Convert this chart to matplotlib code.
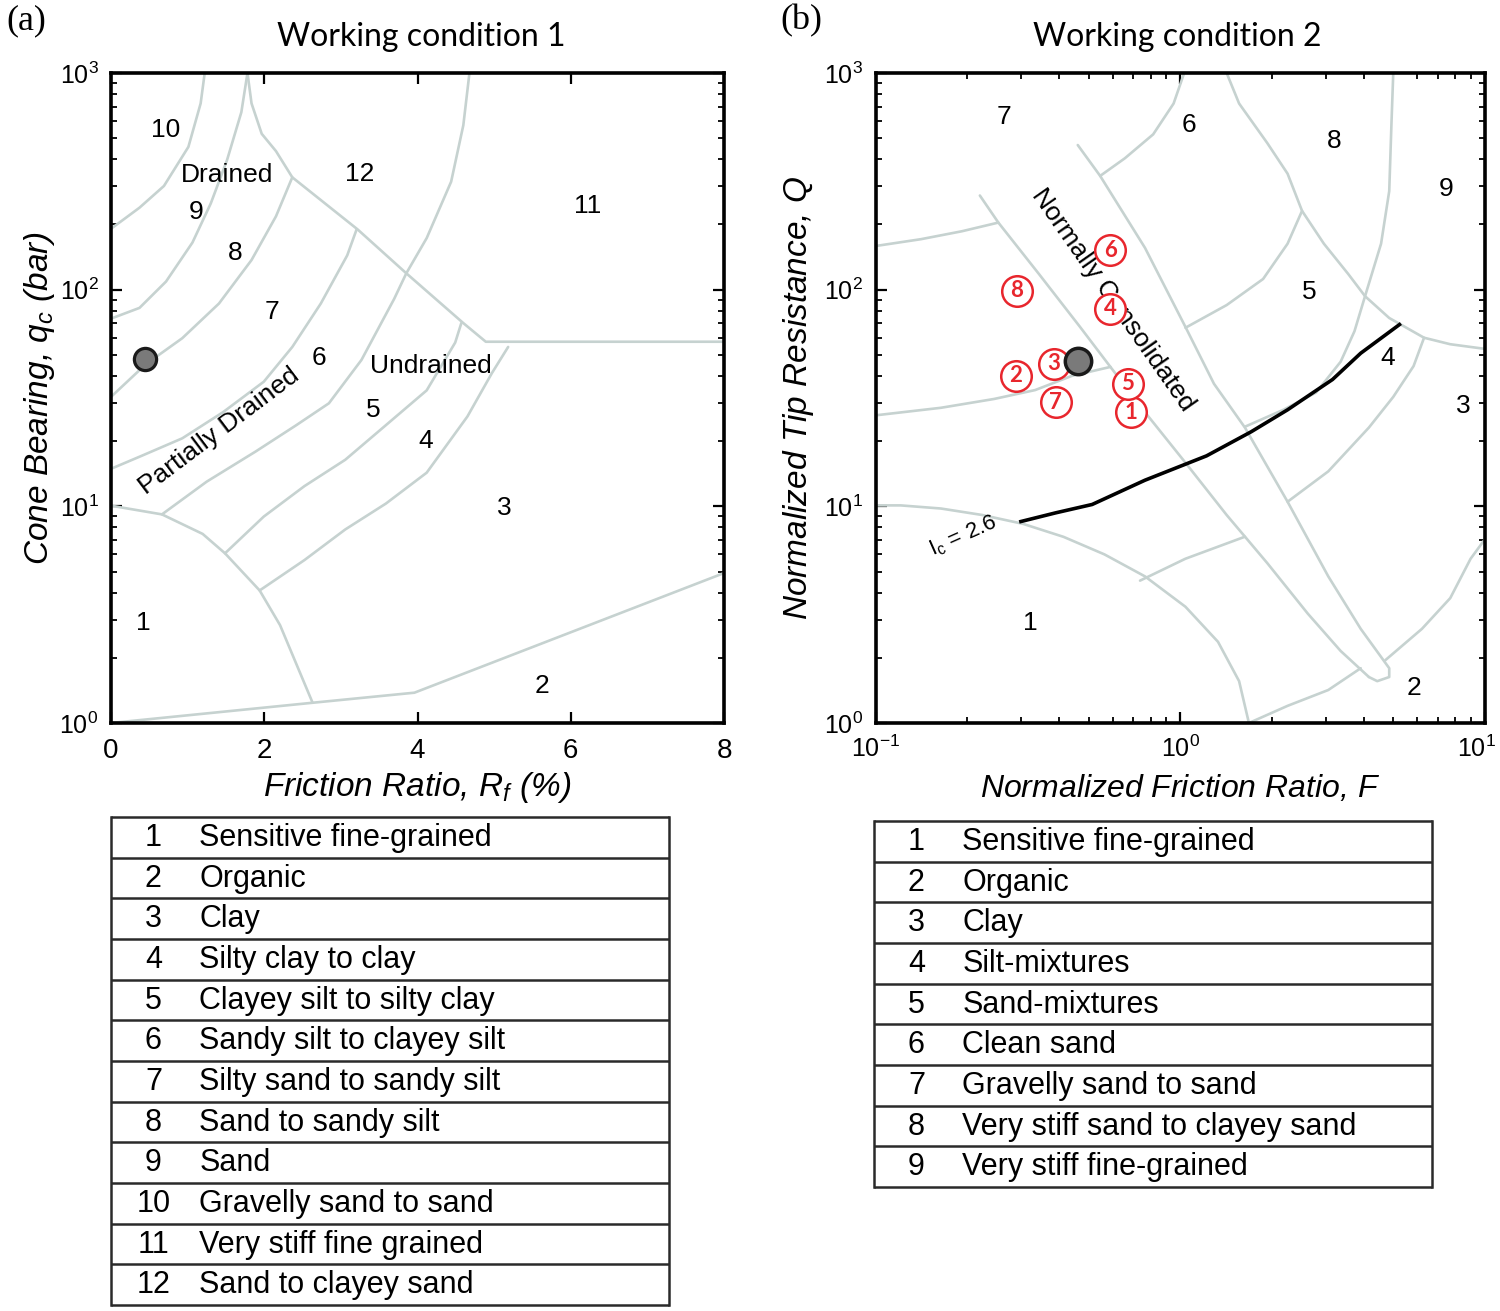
import matplotlib
matplotlib.use('Agg')
import matplotlib.pyplot as plt
import matplotlib.transforms as mtransforms
from matplotlib.ticker import LogLocator, NullFormatter

plt.rcParams['font.family'] = ['Liberation Sans', 'DejaVu Sans']
plt.rcParams['mathtext.fontset'] = 'custom'
plt.rcParams['mathtext.rm'] = 'Liberation Sans'
plt.rcParams['mathtext.it'] = 'Liberation Sans:italic'
plt.rcParams['mathtext.default'] = 'regular'

# ---------------- data: Working condition 1 (Robertson 1986 chart) ----------------
wc1_line_a = ([1.223, 1.170, 1.010, 0.691, 0.372, 0.0], [1000, 724, 456, 301, 239, 191])
wc1_line_b = ([1.781, 1.701, 1.515, 1.302, 1.063, 0.718, 0.372, 0.0], [1000, 659, 397, 250, 165, 109, 82.4, 73.5])
wc1_line_c = ([2.366, 2.153, 1.834, 1.409, 0.930, 0.452, 0.0], [330, 218, 137, 86.3, 59.7, 45.2, 32.0])
wc1_line_d = ([3.206, 3.083, 2.738, 2.366, 1.994, 1.462, 0.930, 0.399, 0.0], [190, 144, 86.3, 54.4, 37.6, 27.2, 20.6, 17.1, 14.9])
wc1_line_e = ([4.678, 4.598, 4.439, 4.120, 3.854, 3.695, 3.269, 2.844, 2.419, 1.887, 1.249, 0.665],
              [1000, 574, 315, 173, 119, 90.6, 47.4, 29.9, 23.7, 17.9, 13.0, 9.18])
wc1_line_f = ([4.572, 4.492, 4.120, 3.588, 3.057, 2.525, 1.994, 1.488], [70.1, 57.0, 34.3, 23.7, 16.4, 12.4, 8.97, 6.07])
wc1_line_g = ([5.183, 4.971, 4.652, 4.120, 3.588, 3.057, 2.525, 1.940], [54.4, 41.2, 26.0, 14.3, 10.3, 7.82, 5.65, 4.09])
wc1_line_h = ([1.781, 1.834, 1.967, 2.153, 2.366, 3.216, 3.854, 4.598, 4.891, 8.0],
              [1000, 724, 524, 436, 330, 190, 119, 70.1, 57.5, 57.5])
wc1_zone1 = ([0.0, 0.665, 1.196, 1.488, 1.940, 2.206, 2.631], [10.07, 9.18, 7.46, 6.07, 4.09, 2.83, 1.24])
wc1_zone2 = ([0.0, 2.631, 3.960, 8.0], [1.0, 1.24, 1.38, 4.92])
wc1_lines = [wc1_line_a, wc1_line_b, wc1_line_c, wc1_line_d, wc1_line_e, wc1_line_f,
             wc1_line_g, wc1_line_h, wc1_zone1, wc1_zone2]

wc1_zone_text = ['10', 'Drained', '9', '8', '7', '6', 'Undrained', '5', '4', '3', '12', '11', '1', '2']
wc1_zone_x = [0.718, 1.515, 1.116, 1.621, 2.10, 2.711, 4.18, 3.418, 4.104, 5.13, 3.243, 6.22, 0.425, 5.624]
wc1_zone_y = [548, 337, 228, 147, 78.7, 48.5, 44.4, 27.9, 20.1, 9.84, 342, 244, 2.90, 1.48]
wc1_point_rf = [0.45]
wc1_point_qc = [48.0]

# ---------------- data: Working condition 2 (Robertson 1990 chart) ----------------
wc2_r1 = ([0.1, 0.141, 0.192, 0.253], [159, 171, 186, 204])
wc2_r2 = ([0.1, 0.164, 0.245, 0.334, 0.441, 0.590], [26.3, 28.5, 31.3, 34.4, 40.0, 44.0])
wc2_r3 = ([0.220, 0.253, 0.344, 0.469, 0.590, 0.766, 1.04, 1.42, 1.93, 2.62, 3.36, 4.16],
          [272, 204, 118, 67.3, 44.0, 27.2, 15.9, 9.12, 5.47, 3.20, 2.15, 1.63])
wc2_r4 = ([0.461, 0.546, 0.766, 1.04, 1.29, 1.63, 2.25, 3.06, 3.91, 4.85, 4.85, 4.43, 4.16],
          [465, 335, 156, 67.3, 36.8, 23.1, 10.5, 4.75, 2.72, 1.79, 1.63, 1.56, 1.63])
wc2_r5 = ([2.51, 2.25, 1.87, 1.42, 1.04], [231, 163, 112, 84.9, 66.7])
wc2_r6 = ([5.0, 4.93, 4.85, 4.56, 4.04, 3.73, 3.36, 2.79, 2.18, 1.63],
          [1000, 573, 285, 163, 93.3, 64.3, 46.5, 33.5, 27.9, 23.3])
wc2_r7 = ([6.31, 5.83, 5.0, 4.16, 3.06, 2.25], [60.0, 44.4, 32.0, 23.1, 14.5, 10.5])
wc2_r8 = ([10.0, 8.97, 7.69, 6.21, 4.71], [7.06, 5.73, 3.77, 2.72, 1.95])
wc2_r9 = ([0.1, 0.121, 0.164, 0.224, 0.305, 0.414, 0.564, 0.766, 1.04, 1.33, 1.56, 1.68],
          [10.1, 10.1, 9.77, 9.12, 8.30, 7.23, 6.0, 4.75, 3.44, 2.37, 1.56, 1.0])
wc2_r10 = ([0.738, 1.04, 1.63], [4.54, 5.73, 7.24])
wc2_r11 = ([1.68, 2.25, 3.06, 3.91], [1.0, 1.20, 1.42, 1.79])
wc2_r12 = ([1.03, 0.951, 0.815, 0.658, 0.546], [1000, 723, 521, 404, 335])
wc2_r13 = ([1.42, 1.56, 1.93, 2.25, 2.51, 2.96, 3.56, 4.04, 4.85, 6.31, 7.69, 10.0],
           [1000, 723, 475, 343, 231, 163, 118, 93.3, 74.0, 60.0, 56.0, 53.3])
wc2_lines = [wc2_r1, wc2_r2, wc2_r3, wc2_r4, wc2_r5, wc2_r6, wc2_r7, wc2_r8, wc2_r9,
             wc2_r10, wc2_r11, wc2_r12, wc2_r13]

wc2_ic_F = [0.300, 0.390, 0.514, 0.766, 1.22, 1.71, 2.25, 3.16, 3.91, 5.24]
wc2_ic_Q = [8.51, 9.33, 10.2, 13.2, 17.1, 22.1, 27.9, 38.5, 50.9, 69.0]

wc2_zone_text = ['7', '6', '8', '9', '5', '4', '3', '1', '2']
wc2_zone_F = [0.265, 1.07, 3.21, 7.46, 2.66, 4.78, 8.49, 0.322, 5.87]
wc2_zone_Q = [628, 578, 486, 292, 97.7, 48.6, 29.2, 2.88, 1.45]

wc2_case_labels = ['1', '2', '3', '4', '5', '6', '7', '8']
wc2_case_F = [0.689, 0.289, 0.384, 0.590, 0.673, 0.590, 0.390, 0.291]
wc2_case_Q = [27.2, 40.0, 45.4, 81.8, 36.8, 152, 30.3, 98.6]
wc2_point_F = [0.461]
wc2_point_Q = [46.9]

wc2_xticks = [0.1, 1, 10]

# ---------------- tables ----------------
table1_numbers = ['1', '2', '3', '4', '5', '6', '7', '8', '9', '10', '11', '12']
table1_names = ['Sensitive fine-grained', 'Organic', 'Clay', 'Silty clay to clay',
                'Clayey silt to silty clay', 'Sandy silt to clayey silt',
                'Silty sand to sandy silt', 'Sand to sandy silt', 'Sand',
                'Gravelly sand to sand', 'Very stiff fine grained', 'Sand to clayey sand']
table2_numbers = ['1', '2', '3', '4', '5', '6', '7', '8', '9']
table2_names = ['Sensitive fine-grained', 'Organic', 'Clay', 'Silt-mixtures', 'Sand-mixtures',
                'Clean sand', 'Gravelly sand to sand', 'Very stiff sand to clayey sand',
                'Very stiff fine-grained']

LINE_C = '#c6d2d0'
W, H = 1500, 1311
fig = plt.figure(figsize=(W / 100, H / 100), dpi=100)


def rect(x0, y0, x1, y1):
    return [x0 / W, 1 - y1 / H, (x1 - x0) / W, (y1 - y0) / H]


def style_axes(ax):
    for s in ax.spines.values():
        s.set_linewidth(2.6)
    ax.tick_params(which='both', direction='in', top=True, right=True, labelsize=18, pad=9)
    ax.tick_params(which='major', length=8, width=1.6)
    ax.tick_params(which='minor', length=4.5, width=1.3)


# ---- panel (a)
ax1 = fig.add_axes(rect(111, 73, 724, 723))
ax1.set_xlim(0, 8)
ax1.set_yscale('log')
ax1.set_ylim(1, 1000)
ax1.set_xticks([0, 2, 4, 6, 8])
ax1.yaxis.set_major_locator(LogLocator(base=10, numticks=10))
ax1.yaxis.set_minor_locator(LogLocator(base=10, subs=range(2, 10), numticks=20))
ax1.yaxis.set_minor_formatter(NullFormatter())
style_axes(ax1)
ax1.tick_params(axis='x', labelsize=20, pad=11)
for xs, ys in wc1_lines:
    ax1.plot(xs, ys, color=LINE_C, lw=1.9, solid_capstyle='round', zorder=2)
for t, x, y in zip(wc1_zone_text, wc1_zone_x, wc1_zone_y):
    ax1.text(x, y, t, fontsize=19, ha='center', va='center', zorder=4)
ax1.text(1.407, 22.2, 'Partially Drained', fontsize=19, rotation=37, ha='center', va='center',
         rotation_mode='anchor', zorder=4)
ax1.plot(wc1_point_rf, wc1_point_qc, 'o', ms=16, mfc='#7a7a7a', mec='#1a1a1a', mew=2.3, zorder=5)
ax1.set_xlabel('Friction Ratio, $R_f$ (%)', fontsize=24, style='italic', labelpad=4)
ax1.set_ylabel('Cone Bearing, $q_c$ (bar)', fontsize=24, style='italic', labelpad=2)

# ---- panel (b)
ax2 = fig.add_axes(rect(875.5, 73, 1485, 723))
ax2.set_xscale('log')
ax2.set_yscale('log')
ax2.set_xlim(0.1, 10)
ax2.set_ylim(1, 1000)
ax2.set_xticks(wc2_xticks)
ax2.yaxis.set_major_locator(LogLocator(base=10, numticks=10))
for axis in (ax2.xaxis, ax2.yaxis):
    axis.set_minor_locator(LogLocator(base=10, subs=range(2, 10), numticks=20))
    axis.set_minor_formatter(NullFormatter())
style_axes(ax2)
for xs, ys in wc2_lines:
    ax2.plot(xs, ys, color=LINE_C, lw=1.9, solid_capstyle='round', zorder=2)
ax2.plot(wc2_ic_F, wc2_ic_Q, color='black', lw=2.6, zorder=3)
ax2.text(0.194, 7.3, '$I_c$ = 2.6', fontsize=16, rotation=24, ha='center', va='center', zorder=4)
for t, x, y in zip(wc2_zone_text, wc2_zone_F, wc2_zone_Q):
    ax2.text(x, y, t, fontsize=19, ha='center', va='center', zorder=4)
ax2.text(0.60, 90, 'Normally Consolidated', fontsize=19, rotation=-55, ha='center', va='center',
         rotation_mode='anchor', zorder=4)
ax2.plot(wc2_point_F, wc2_point_Q, 'o', ms=19, mfc='#7a7a7a', mec='#1a1a1a', mew=2.5, zorder=7)
ax2.plot(wc2_case_F, wc2_case_Q, 'o', ms=22, mfc='white', mec='#e8262d', mew=1.8, zorder=5)
for t, x, y in zip(wc2_case_labels, wc2_case_F, wc2_case_Q):
    ax2.text(x, y, t, fontsize=16, fontweight='bold', color='#e8262d', ha='center', va='center',
             family=['Lato', 'DejaVu Sans'], zorder=6)
ax2.set_xlabel('Normalized Friction Ratio, $F$', fontsize=23, style='italic', labelpad=8)
ax2.set_ylabel('Normalized Tip Resistance, $Q$', fontsize=24, style='italic', labelpad=6)

# keep the last x tick label (10^1) inside the figure
last_tick = ax2.xaxis.get_major_ticks()[len(wc2_xticks) - 1]
last_tick.label1.set_transform(last_tick.label1.get_transform() +
                               mtransforms.ScaledTranslation(-9 / 100, 0, fig.dpi_scale_trans))

# ---- titles and panel letters
fig.text(421 / W, 1 - 37 / H, 'Working condition 1', fontsize=23, ha='center', va='center',
         family=['Lato', 'DejaVu Sans'])
fig.text(1177 / W, 1 - 37 / H, 'Working condition 2', fontsize=23, ha='center', va='center',
         family=['Lato', 'DejaVu Sans'])
fig.text(26 / W, 1 - 21 / H, '(a)', fontsize=26, ha='center', va='center',
         family=['Liberation Serif', 'DejaVu Serif'])
fig.text(801 / W, 1 - 21 / H, '(b)', fontsize=26, ha='center', va='center',
         family=['Liberation Serif', 'DejaVu Serif'])


# ---- tables
def draw_table(r, nums, names):
    tax = fig.add_axes(r)
    n = len(nums)
    tax.set_xlim(0, 1)
    tax.set_ylim(n, 0)
    tax.axis('off')
    for i in range(n + 1):
        tax.plot([0, 1], [i, i], color='#2a2a2a', lw=1.8, solid_capstyle='butt', clip_on=False)
    tax.plot([0, 0], [0, n], color='#2a2a2a', lw=1.8, clip_on=False)
    tax.plot([1, 1], [0, n], color='#2a2a2a', lw=1.8, clip_on=False)
    for i, (a, b) in enumerate(zip(nums, names)):
        tax.text(0.076, i + 0.52, a, fontsize=22, ha='center', va='center')
        tax.text(0.158, i + 0.52, b, fontsize=22, ha='left', va='center')


draw_table(rect(111, 817, 669, 1305), table1_numbers, table1_names)
draw_table(rect(874, 821, 1432, 1187), table2_numbers, table2_names)

fig.savefig('out.png', dpi=100)
